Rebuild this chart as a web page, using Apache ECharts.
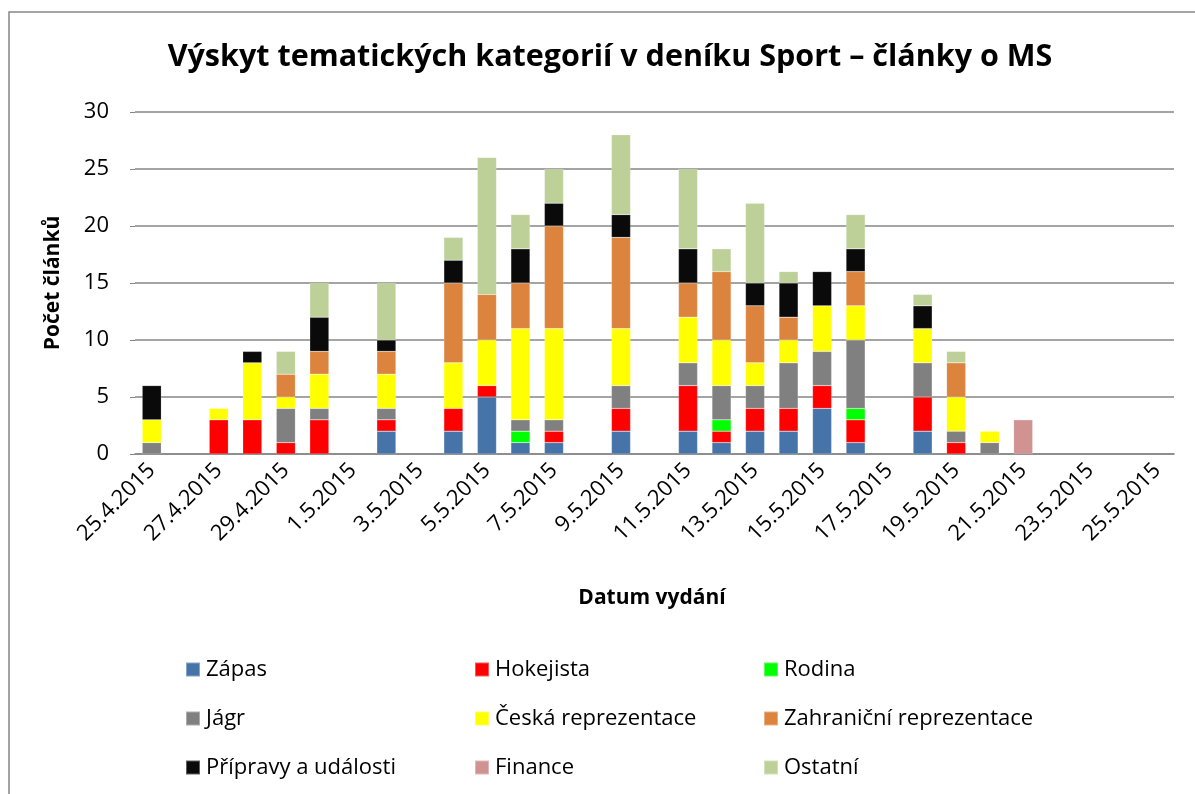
<!DOCTYPE html>
<html>
<head>
<meta charset="utf-8">
<script src="https://cdn.jsdelivr.net/npm/echarts@6/dist/echarts.min.js"></script>
<style>
  html, body { margin: 0; padding: 0; background: #ffffff; }
  #chart { width: 1195px; height: 794px; }
</style>
</head>
<body>
<div id="chart"></div>
<script>
// dny vydání 25.4. - 25.5.2015
const dates = [
  "25.4.2015", "26.4.2015", "27.4.2015", "28.4.2015", "29.4.2015", "30.4.2015",
  "1.5.2015", "2.5.2015", "3.5.2015", "4.5.2015", "5.5.2015", "6.5.2015",
  "7.5.2015", "8.5.2015", "9.5.2015", "10.5.2015", "11.5.2015", "12.5.2015",
  "13.5.2015", "14.5.2015", "15.5.2015", "16.5.2015", "17.5.2015", "18.5.2015",
  "19.5.2015", "20.5.2015", "21.5.2015", "22.5.2015", "23.5.2015", "24.5.2015",
  "25.5.2015"
];

const zapas      = [0,0,0,0,0,0,0,2,0,2,5,1,1,0,2,0,2,1,2,2,4,1,0,2,0,0,0,0,0,0,0];
const hokejista  = [0,0,3,3,1,3,0,1,0,2,1,0,1,0,2,0,4,1,2,2,2,2,0,3,1,0,0,0,0,0,0];
const rodina     = [0,0,0,0,0,0,0,0,0,0,0,1,0,0,0,0,0,1,0,0,0,1,0,0,0,0,0,0,0,0,0];
const jagr       = [1,0,0,0,3,1,0,1,0,0,0,1,1,0,2,0,2,3,2,4,3,6,0,3,1,1,0,0,0,0,0];
const ceskaRepre = [2,0,1,5,1,3,0,3,0,4,4,8,8,0,5,0,4,4,2,2,4,3,0,3,3,1,0,0,0,0,0];
const zahrRepre  = [0,0,0,0,2,2,0,2,0,7,4,4,9,0,8,0,3,6,5,2,0,3,0,0,3,0,0,0,0,0,0];
const pripravy   = [3,0,0,1,0,3,0,1,0,2,0,3,2,0,2,0,3,0,2,3,3,2,0,2,0,0,0,0,0,0,0];
const finance    = [0,0,0,0,0,0,0,0,0,0,0,0,0,0,0,0,0,0,0,0,0,0,0,0,0,0,3,0,0,0,0];
const ostatni    = [0,0,0,0,2,3,0,5,0,2,12,3,3,0,7,0,7,2,7,1,0,3,0,1,1,0,0,0,0,0,0];

const yTicks = [0, 5, 10, 15, 20, 25, 30];

const categories = [
  { name: "Zápas", data: zapas, color: "#4674a9" },
  { name: "Hokejista", data: hokejista, color: "#ff0000" },
  { name: "Rodina", data: rodina, color: "#00ff00" },
  { name: "Jágr", data: jagr, color: "#808080" },
  { name: "Česká reprezentace", data: ceskaRepre, color: "#ffff00" },
  { name: "Zahraniční reprezentace", data: zahrRepre, color: "#dc843e" },
  { name: "Přípravy a události", data: pripravy, color: "#0a0a0a" },
  { name: "Finance", data: finance, color: "#d19292" },
  { name: "Ostatní", data: ostatni, color: "#bcd098" }
];

const font = "'Open Sans', 'Noto Sans', sans-serif";

const legendCol = (names, left) => ({
  orient: "vertical",
  left: left,
  top: 652,
  itemWidth: 14,
  itemHeight: 14,
  itemGap: 24,
  icon: "rect",
  selectedMode: false,
  data: names,
  textStyle: { fontFamily: font, fontSize: 22, color: "#000", lineHeight: 25, padding: [0, 0, 0, 1] }
});

let chart = echarts.init(document.getElementById("chart"));
let option = {
  animation: false,
  textStyle: { fontFamily: font },
  legend: [
    legendCol(["Zápas", "Jágr", "Přípravy a události"], 180),
    legendCol(["Hokejista", "Česká reprezentace", "Finance"], 469),
    legendCol(["Rodina", "Zahraniční reprezentace", "Ostatní"], 758)
  ],
  grid: { left: 135, right: 21, top: 112, bottom: 340 },
  xAxis: {
    type: "category",
    data: dates,
    axisLine: { lineStyle: { color: "#868686", width: 1.5 } },
    axisTick: { show: false },
    axisLabel: {
      interval: 1,
      rotate: 45,
      margin: 13,
      fontFamily: font,
      fontSize: 22,
      color: "#000"
    }
  },
  yAxis: {
    type: "value",
    min: yTicks[0],
    max: yTicks[yTicks.length - 1],
    interval: 5,
    axisLine: { show: false },
    axisTick: { show: true, length: 5, lineStyle: { color: "#868686" } },
    axisLabel: { margin: 26, fontFamily: font, fontSize: 22, color: "#000" },
    splitLine: { lineStyle: { color: "#868686", width: 1.5 } }
  },
  graphic: [
    {
      type: "rect",
      shape: { x: 9, y: 12, width: 1200, height: 800 },
      style: { fill: "none", stroke: "#868686", lineWidth: 1.5 },
      silent: true
    },
    {
      type: "text",
      x: 610, y: 57,
      style: {
        text: "Výskyt tematických kategorií v deníku Sport – články o MS",
        fontFamily: font, fontSize: 30.5, fontWeight: "bold", fill: "#000",
        align: "center", verticalAlign: "middle"
      }
    },
    {
      type: "text",
      x: 53, y: 283,
      rotation: Math.PI / 2,
      style: {
        text: "Počet článků",
        fontFamily: font, fontSize: 21, fontWeight: "bold", fill: "#000",
        align: "center", verticalAlign: "middle"
      }
    },
    {
      type: "text",
      x: 652, y: 598,
      style: {
        text: "Datum vydání",
        fontFamily: font, fontSize: 21, fontWeight: "bold", fill: "#000",
        align: "center", verticalAlign: "middle"
      }
    }
  ],
  series: categories.map(c => ({
    name: c.name,
    type: "bar",
    stack: "vse",
    barWidth: "57%",
    // nuly nekreslit, jinak zustane na ose tenka cara
    data: c.data.map(v => (v === 0 ? null : v)),
    itemStyle: { color: c.color, borderColor: "rgba(255,255,255,0.35)", borderWidth: 0.5 },
    emphasis: { disabled: true }
  }))
};
chart.setOption(option, true);
</script>
</body>
</html>
